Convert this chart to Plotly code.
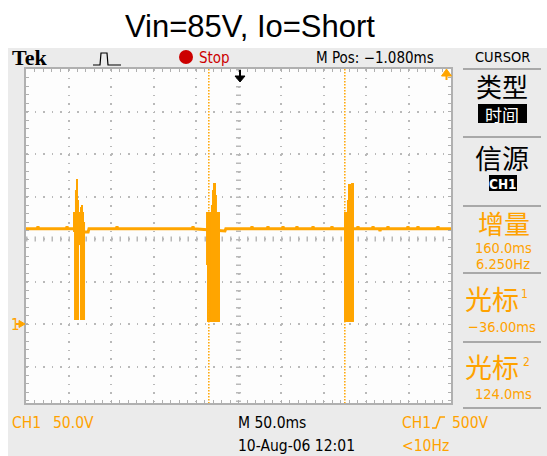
import plotly.graph_objects as go

# ------------------------------------------------------------------
# Data read from the oscilloscope screen
# ------------------------------------------------------------------
title_text = "Vin=85V, Io=Short"
time_per_div_ms = 50.0
volts_per_div = 50.0
m_pos_ms = -1.080
cursor_ms = [-36.0, 124.0]
ground_div = -2.0          # CH1 ground marker, divisions from screen centre

# quiet baseline of the CH1 trace (ms, V)
base_t = [-251.1, -238.0, -237.0, -236.0, -203.8, -202.8, -201.8, -195.8,
          -181.7, -178.0, -177.0, -145.0, -144.0, -143.0, -55.6, -54.6, -53.6,
          -22.8, -17.0, -16.0, 13.8, 14.8, 15.8, 32.6, 33.6, 34.6, 50.3, 51.3,
          52.3, 66.7, 67.7, 68.7, 85.6, 86.6, 87.6, 107.9, 108.9, 109.9, 138.5,
          139.5, 140.5, 156.2, 157.2, 158.2, 164.4, 165.4, 166.4, 173.8, 174.8,
          175.8, 197.3, 198.3, 199.3, 209.1, 210.1, 211.1, 232.6, 233.6, 234.6,
          248.9]
base_v = [112.1, 112.1, 114.5, 112.1, 112.1, 114.5, 112.1, 112.1,
          108.2, 108.2, 112.1, 112.1, 114.5, 112.1, 112.1, 114.5, 112.1,
          109.4, 109.4, 112.1, 112.1, 114.5, 112.1, 112.1, 114.5, 112.1, 112.1, 114.5,
          112.1, 112.1, 114.5, 112.1, 112.1, 114.5, 112.1, 112.1, 114.5, 112.1, 112.1,
          114.5, 112.1, 112.1, 114.5, 112.1, 112.1, 109.5, 112.1, 112.1, 114.5,
          112.1, 112.1, 114.5, 112.1, 112.1, 114.5, 112.1, 112.1, 114.5, 112.1,
          112.1]

# switching bursts: peak-detect envelope per screen column (ms, max V, min V)
burst_t = [-194.6, -193.4, -192.3, -191.1, -189.9, -188.7, -187.5, -186.4, -185.2, -184.0, -182.8,
           -38.1, -37.0, -35.8, -34.6, -33.4, -32.3, -31.1, -29.9, -28.7, -27.6, -26.4, -25.2, -24.0,
           124.2, 125.4, 126.6, 127.7, 128.9, 130.1, 131.3, 132.5, 133.6]
burst_hi = [131.8, 131.8, 157.6, 170.6, 145.9, 131.8, 131.8, 137.6, 140.0, 131.8, 120.0,
            131.8, 131.8, 131.8, 131.8, 131.8, 140.0, 157.6, 165.9, 165.9, 151.8, 131.8, 131.8, 131.8,
            131.8, 131.8, 131.8, 145.9, 164.7, 164.7, 158.8, 165.9, 165.9]
burst_lo = [108.2, 4.7, 4.7, 4.7, 4.7, 92.9, 92.9, 4.7, 4.7, 4.7, 4.7,
            69.4, 2.4, 28.2, 2.4, 2.4, 2.4, 2.4, 2.4, 2.4, 2.4, 2.4, 2.4, 2.4,
            2.4, 2.4, 2.4, 2.4, 2.4, 2.4, 2.4, 2.4, 2.4]

# screen texts
status_tek = "Tek"
status_stop = "Stop"
status_mpos = "M Pos: \u22121.080ms"
menu_title = "CURSOR"
menu_type = ["类型", "时间"]
menu_source = ["信源", "CH1"]
menu_delta = ["增量", "160.0ms", "6.250Hz"]
menu_cur1 = ["光标", "1", "\u221236.00ms"]
menu_cur2 = ["光标", "2", "124.0ms"]
bottom_ch = ["CH1", "50.0V"]
bottom_time = ["M 50.0ms", "10-Aug-06 12:01"]
bottom_trig = ["CH1", "500V", "<10Hz"]

# ------------------------------------------------------------------
# Layout geometry (pixels)
# ------------------------------------------------------------------
W, H = 547, 456
L, R, T, B = 26, 451, 69, 403
ppd = (R - L) / 10.0
ORANGE = "#FFA500"
TXT_OR = "#FFA200"
GRID = "#b9b9b9"
NARROW = "Liberation Sans Narrow, DejaVu Sans Condensed, Arial Narrow, Roboto Condensed, Liberation Sans, sans-serif"
CJK = "Noto Sans CJK SC, Noto Sans CJK JP, sans-serif"


def px(x):
    return (x - L) / (R - L)


def py(y):
    return (B - y) / (B - T)


def ppath(points, close=False):
    s = "M" + " L".join(f"{px(x):.5f},{py(y):.5f}" for x, y in points)
    return s + (" Z" if close else "")


x_range = [m_pos_ms - 5 * time_per_div_ms, m_pos_ms + 5 * time_per_div_ms]
center_v = -ground_div * volts_per_div
y_top = center_v + 4 * volts_per_div
y_bot = center_v - (B - (T + 4 * ppd)) / ppd * volts_per_div

fig = go.Figure()
fig.add_trace(go.Scatter(x=base_t, y=base_v, mode="lines",
                         line=dict(color=ORANGE, width=3), hoverinfo="skip"))
seg_x, seg_y = [], []
for t, hi, lo in zip(burst_t, burst_hi, burst_lo):
    seg_x += [t, t, None]
    seg_y += [lo, hi, None]
fig.add_trace(go.Scatter(x=seg_x, y=seg_y, mode="lines",
                         line=dict(color=ORANGE, width=2), hoverinfo="skip"))

shapes = []
# bezel and screen
shapes.append(dict(type="rect", xref="paper", yref="paper", layer="below",
                   x0=px(8), x1=px(W), y0=py(48), y1=py(H),
                   fillcolor="#ebebeb", line=dict(width=0)))
shapes.append(dict(type="rect", xref="paper", yref="paper", layer="below",
                   x0=0, x1=1, y0=0, y1=1, fillcolor="#fdfdfd", line=dict(width=0)))
# centre graticule tick lines
shapes.append(dict(type="line", xref="x", yref="y", layer="below",
                   x0=x_range[0], x1=x_range[1], y0=center_v, y1=center_v,
                   line=dict(color=GRID, width=5, dash="1.5px,7px")))
shapes.append(dict(type="line", xref="x", yref="y", layer="below",
                   x0=m_pos_ms, x1=m_pos_ms, y0=y_top, y1=y_bot,
                   line=dict(color=GRID, width=5, dash="1.5px,7px")))
# cursors
for c in cursor_ms:
    shapes.append(dict(type="line", xref="x", yref="y",
                       x0=c, x1=c, y0=y_top, y1=y_bot,
                       line=dict(color=ORANGE, width=1.5, dash="1.5px,1.5px")))
# right menu separators
for yy in [69, 137, 206, 273, 342, 408]:
    shapes.append(dict(type="line", xref="paper", yref="paper",
                       x0=px(463), x1=px(541), y0=py(yy), y1=py(yy),
                       line=dict(color="#a8a8a8", width=2)))
# black label boxes
shapes.append(dict(type="rect", xref="paper", yref="paper",
                   x0=px(478), x1=px(527), y0=py(104), y1=py(123),
                   fillcolor="black", line=dict(width=0)))
shapes.append(dict(type="rect", xref="paper", yref="paper",
                   x0=px(489), x1=px(517), y0=py(175), y1=py(191),
                   fillcolor="black", line=dict(width=0)))
# stop dot
shapes.append(dict(type="circle", xref="paper", yref="paper",
                   x0=px(179), x1=px(193), y0=py(50), y1=py(64),
                   fillcolor="#cc0000", line=dict(width=0)))
# trigger mode icon
shapes.append(dict(type="path", xref="paper", yref="paper",
                   path=ppath([(93, 65), (100, 65), (101, 53), (107, 53), (108, 65), (121, 65)]),
                   line=dict(color="black", width=1.2)))
# trigger level arrow (orange, top right)
shapes.append(dict(type="path", xref="paper", yref="paper",
                   path=ppath([(441.5, 76), (451.5, 76), (446.5, 69)], close=True),
                   fillcolor=ORANGE, line=dict(color=ORANGE, width=1)))
shapes.append(dict(type="line", xref="paper", yref="paper",
                   x0=px(446.5), x1=px(446.5), y0=py(75), y1=py(80),
                   line=dict(color=ORANGE, width=2)))
# trigger position arrow (black, top centre)
shapes.append(dict(type="path", xref="paper", yref="paper",
                   path=ppath([(235, 76), (245, 76), (240, 82)], close=True),
                   fillcolor="black", line=dict(color="black", width=1)))
shapes.append(dict(type="line", xref="paper", yref="paper",
                   x0=px(240), x1=px(240), y0=py(70), y1=py(76),
                   line=dict(color="black", width=2)))
# ground marker arrow
shapes.append(dict(type="path", xref="paper", yref="paper",
                   path=ppath([(19, 320.5), (25, 324), (19, 327.5)], close=True),
                   fillcolor=ORANGE, line=dict(color=ORANGE, width=1)))
shapes.append(dict(type="line", xref="paper", yref="paper",
                   x0=px(16), x1=px(20), y0=py(324), y1=py(324),
                   line=dict(color=ORANGE, width=2)))
# rising-edge trigger symbol
shapes.append(dict(type="path", xref="paper", yref="paper",
                   path=ppath([(432, 428), (436, 428), (440, 417), (445, 417)]),
                   line=dict(color=TXT_OR, width=1.5)))

ann = []


def text(s, x, y, size, color="black", family=NARROW, xanchor="center", bold=False):
    ann.append(dict(text=(f"<b>{s}</b>" if bold else s), x=px(x), y=py(y),
                    xref="paper", yref="paper", xanchor=xanchor, yanchor="middle",
                    showarrow=False, font=dict(size=size, color=color, family=family)))


text(title_text, 249.5, 26, 31, family="Liberation Sans, Arial, sans-serif")
text(status_tek, 10, 58, 22, family="Liberation Serif, DejaVu Serif, serif", xanchor="left", bold=True)
text(status_stop, 197, 58, 15, color="#cc0000", xanchor="left")
text(status_mpos, 314, 58, 15, xanchor="left")
text(menu_title, 502, 57.5, 14.5)
text(menu_type[0], 502, 85, 26, family=CJK)
text(menu_type[1], 502.5, 114, 17, color="white", family=CJK)
text(menu_source[0], 502, 157, 27, family=CJK)
text(menu_source[1], 503, 183.5, 13.5, color="white", bold=True)
text(menu_delta[0], 504, 222.5, 26, color=TXT_OR, family=CJK)
text(menu_delta[1], 503, 248, 14.5, color=TXT_OR)
text(menu_delta[2], 503, 264, 14.5, color=TXT_OR)
text(menu_cur1[0], 492, 298, 27, color=TXT_OR, family=CJK)
text(menu_cur1[1], 524, 294, 12, color=TXT_OR)
text(menu_cur1[2], 502, 327, 14.5, color=TXT_OR)
text(menu_cur2[0], 492, 366, 27, color=TXT_OR, family=CJK)
text(menu_cur2[1], 526, 362, 12, color=TXT_OR)
text(menu_cur2[2], 503, 394, 14.5, color=TXT_OR)
text("1", 9, 325, 15, color=TXT_OR, xanchor="left")
text(bottom_ch[0], 10, 423, 15.5, color=TXT_OR, xanchor="left")
text(bottom_ch[1], 50.5, 423, 15.5, color=TXT_OR, xanchor="left")
text(bottom_time[0], 235.5, 423, 15.5, xanchor="left")
text(bottom_time[1], 235.5, 446, 15.5, xanchor="left")
text(bottom_trig[0], 399.5, 423, 15.5, color=TXT_OR, xanchor="left")
text(bottom_trig[1], 450, 423, 15.5, color=TXT_OR, xanchor="left")
text(bottom_trig[2], 399.5, 446, 15.5, color=TXT_OR, xanchor="left")

axis_common = dict(showticklabels=False, showgrid=True, gridcolor=GRID, gridwidth=1.5,
                   griddash="1.5px,7px", zeroline=False, showline=True, linecolor="#b0b0b0",
                   linewidth=1.5, mirror="ticks", ticks="inside", ticklen=3, tickwidth=1,
                   tickcolor="#b0b0b0", fixedrange=True)

fig.update_layout(
    width=W, height=H,
    margin=dict(l=L, r=W - R, t=T, b=H - B, pad=0),
    paper_bgcolor="white", plot_bgcolor="rgba(0,0,0,0)",
    showlegend=False,
    xaxis=dict(range=x_range, tick0=m_pos_ms, dtick=time_per_div_ms,
               minor=dict(tick0=m_pos_ms, dtick=time_per_div_ms / 5, ticks="inside",
                          ticklen=3, tickcolor="#b0b0b0", showgrid=False),
               **axis_common),
    yaxis=dict(range=[y_bot, y_top], tick0=center_v, dtick=volts_per_div,
               minor=dict(tick0=center_v, dtick=volts_per_div / 5, ticks="inside",
                          ticklen=3, tickcolor="#b0b0b0", showgrid=False),
               **axis_common),
    shapes=shapes, annotations=ann,
)

fig.write_html("out.html", config={"displayModeBar": False},
               post_script="document.body.style.margin='0';document.body.style.overflow='hidden';")
